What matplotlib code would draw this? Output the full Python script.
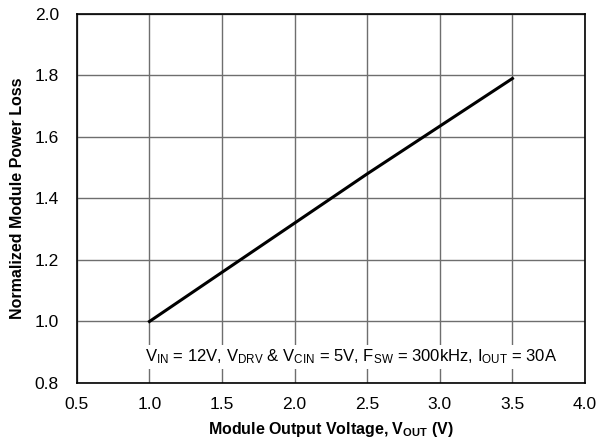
import matplotlib
matplotlib.use("Agg")
import matplotlib.pyplot as plt

# data
vout = [1.0, 1.5, 2.0, 2.5, 3.0, 3.5]
loss = [1.0, 1.16, 1.32, 1.48, 1.635, 1.79]
xticks = [0.5, 1.0, 1.5, 2.0, 2.5, 3.0, 3.5, 4.0]
yticks = [0.8, 1.0, 1.2, 1.4, 1.6, 1.8, 2.0]

plt.rcParams['font.family'] = ['Liberation Sans', 'DejaVu Sans']
plt.rcParams['mathtext.fontset'] = 'custom'
plt.rcParams['mathtext.rm'] = 'Liberation Sans'
plt.rcParams['mathtext.bf'] = 'Liberation Sans:bold'
plt.rcParams['mathtext.default'] = 'regular'

fig = plt.figure(figsize=(6.05, 4.41), dpi=100)
ax = fig.add_axes([0.127, 0.1315, 0.840, 0.837])

ax.plot(vout, loss, color='black', linewidth=2.2, zorder=3)

ax.set_xlim(0.5, 4.0)
ax.set_ylim(0.8, 2.0)
ax.set_xticks(xticks)
ax.set_yticks(yticks)
ax.set_xticklabels([f"{v:.1f}" for v in xticks])
ax.set_yticklabels([f"{v:.1f}" for v in yticks])
ax.tick_params(length=0, labelsize=12.5)
ax.tick_params(axis='x', pad=10)
ax.tick_params(axis='y', pad=13)
ax.grid(True, color='#6e6e6e', linewidth=1.0, zorder=1)
for s in ax.spines.values():
    s.set_linewidth(1.2)
    s.set_color('black')

ax.set_xlabel(r'Module Output Voltage, V$_{\mathbf{OUT}}$ (V)', fontsize=11.5, fontweight='bold', labelpad=6)
ax.set_ylabel('Normalized Module Power Loss', fontsize=11.5, fontweight='bold', labelpad=7)

note = (r'V$_{IN}$ = 12V, V$_{DRV}$ & V$_{CIN}$ = 5V, '
        r'F$_{SW}$ = 300kHz, I$_{OUT}$ = 30A')
ax.text(2.39, 0.885, note, ha='center', va='center', fontsize=12,
        bbox=dict(facecolor='white', edgecolor='none', pad=2), zorder=4)

fig.savefig('out.png', dpi=100)
